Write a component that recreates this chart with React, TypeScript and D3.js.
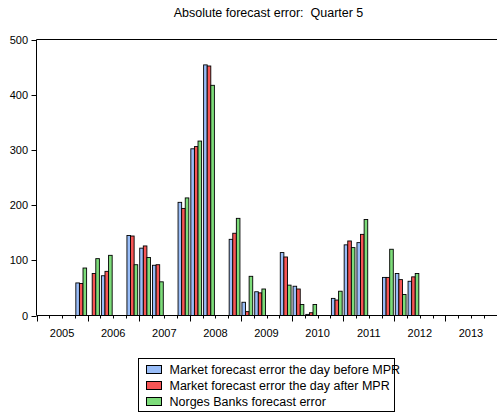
import React from "react";
import * as d3 from "d3";

const years = ["2005", "2006", "2007", "2008", "2009", "2010", "2011", "2012", "2013"];
// quarter index (0 = 2005Q1) for each observation
const quarterIndex = [3, 4, 5, 7, 8, 9, 11, 12, 13, 15, 16, 17, 19, 20, 21, 23, 24, 25, 27, 28, 29];
const dayBefore: (number | null)[] = [59, null, 72, 145, 122, 91, 205, 302, 454, 138, 24, 43, 114, 53, 2, 31, 128, 132, 69, 76, 62];
const dayAfter: (number | null)[] = [58, 76, 80, 144, 126, 92, 194, 306, 452, 149, 7, 41, 106, 48, 5, 28, 135, 147, 69, 65, 70];
const norgesBank: (number | null)[] = [86, 103, 109, 92, 105, 61, 213, 316, 417, 176, 71, 48, 55, 20, 20, 44, 123, 174, 120, 38, 76];
const yTicks = [0, 100, 200, 300, 400, 500];

const seriesNames = [
  "Market forecast error the day before MPR",
  "Market forecast error the day after MPR",
  "Norges Banks forecast error",
];
const seriesColors = ["#99bdf8", "#f75555", "#7ddc7a"];
const seriesData = [dayBefore, dayAfter, norgesBank];

const W = 497;
const H = 414;
const left = 36.5;
const right = 496.5;
const top = 39.5;
const bottom = 315.5;
const font = "Liberation Sans, Arial, sans-serif";

export default function App() {
  const nQ = years.length * 4;
  const x = d3.scaleLinear().domain([0, nQ]).range([left, right]);
  const y = d3.scaleLinear().domain([0, 500]).range([bottom, top]);
  const qW = x(1) - x(0);
  const inner = d3
    .scaleBand<number>()
    .domain([0, 1, 2])
    .range([1, qW - 1])
    .paddingInner(0);

  return (
    <div style={{ position: "absolute", left: 0, top: 0 }}>
      <svg width={W} height={H} style={{ display: "block" }} fontFamily={font}>
        <rect x={0} y={0} width={W} height={H} fill="#fff" />
        <text
          x={268.5}
          y={17}
          fontSize={12.5}
          textAnchor="middle"
          fill="#000"
          style={{ whiteSpace: "pre" }}
        >
          {"Absolute forecast error:  Quarter 5"}
        </text>
        {/* bars */}
        {quarterIndex.map((q, i) =>
          seriesData.map((s, k) => {
            const v = s[i];
            if (v == null) return null;
            const bx = x(q) + (inner(k) as number);
            const by = y(v);
            return (
              <rect
                key={`${i}-${k}`}
                x={bx}
                y={by}
                width={inner.bandwidth()}
                height={bottom - by}
                fill={seriesColors[k]}
                stroke="#000"
                strokeWidth={0.9}
              />
            );
          })
        )}
        {/* frame */}
        <line x1={left} x2={W} y1={top} y2={top} stroke="#000" strokeWidth={1} />
        <line x1={left} x2={left} y1={top} y2={bottom} stroke="#000" strokeWidth={1} />
        <line x1={left} x2={W} y1={bottom} y2={bottom} stroke="#000" strokeWidth={1} />
        {/* y ticks */}
        {yTicks.map((t) => (
          <g key={t}>
            <line x1={left - 5} x2={left} y1={Math.round(y(t)) + 0.5} y2={Math.round(y(t)) + 0.5} stroke="#000" />
            <text x={28} y={y(t) + 4} fontSize={11} textAnchor="end" fill="#000">
              {t}
            </text>
          </g>
        ))}
        {/* x ticks */}
        {d3.range(0, nQ).map((q) => {
          const major = q % 4 === 0;
          const xx = Math.round(x(q)) + 0.5;
          return (
            <line
              key={q}
              x1={xx}
              x2={xx}
              y1={bottom}
              y2={bottom + (major ? 6 : 3)}
              stroke="#000"
            />
          );
        })}
        {years.map((yr, i) => (
          <text
            key={yr}
            x={x(i * 4 + 2)}
            y={337}
            fontSize={11}
            textAnchor="middle"
            fill="#000"
          >
            {yr}
          </text>
        ))}
        {/* legend */}
        <rect x={138.5} y={358.5} width={256} height={53} fill="#fff" stroke="#000" />
        {seriesNames.map((name, k) => (
          <g key={name}>
            <rect
              x={146.5}
              y={365.5 + k * 16}
              width={15}
              height={8}
              fill={seriesColors[k]}
              stroke="#000"
            />
            <text x={169.5} y={374 + k * 16} fontSize={12.5} fill="#000">
              {name}
            </text>
          </g>
        ))}
      </svg>
    </div>
  );
}
